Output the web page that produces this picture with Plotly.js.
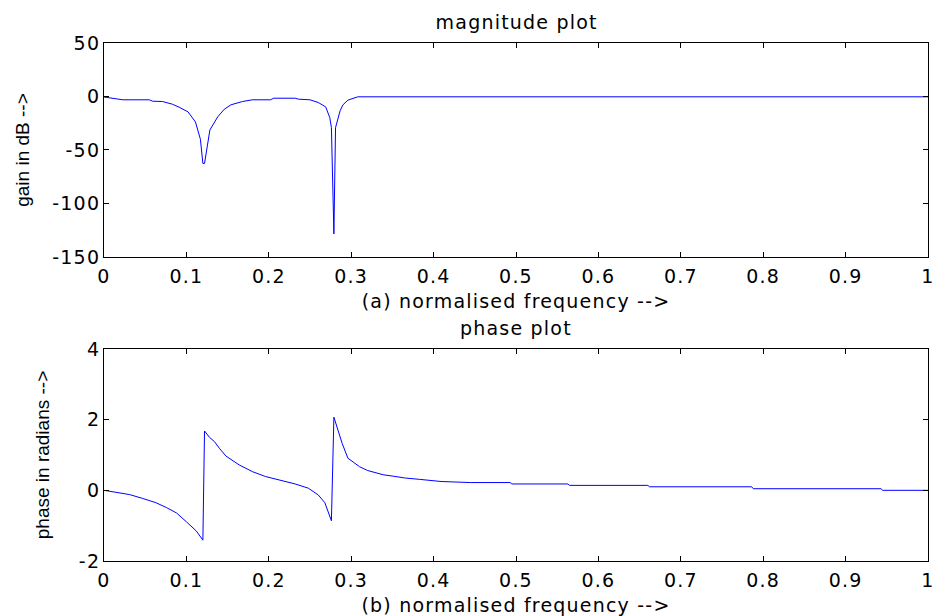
<!DOCTYPE html>
<html>
<head>
<meta charset="utf-8">
<script src="https://cdn.plot.ly/plotly-3.0.1.min.js"></script>
<style>
html,body{margin:0;padding:0;background:#fff;}
#chart{width:937px;height:616px;}
#chart text.xtitle, #chart text.x2title, #chart .xtick text, #chart .x2tick text,
#chart .ytick text, #chart .y2tick text, #chart text.annotation-text { letter-spacing: 1.2px; }
</style>
</head>
<body>
<div id="chart"></div>
<script>
// ---- data ----
var magFreq = [0, 0.023, 0.055, 0.059, 0.071, 0.083, 0.092, 0.102, 0.111, 0.117, 0.120, 0.122, 0.1285, 0.138, 0.146, 0.154, 0.168, 0.18, 0.202, 0.206, 0.232, 0.236, 0.25, 0.26, 0.269, 0.274, 0.276, 0.279, 0.281, 0.2865, 0.29, 0.296, 0.308, 1.0];
var magDb   = [-0.5, -3.1, -3.1, -4.4, -4.7, -7.2, -10.3, -14.4, -23.8, -40, -62.6, -62.6, -31.3, -19, -11.9, -7.8, -4.7, -3.1, -3.1, -1.6, -1.6, -2.5, -3.1, -5.6, -9.7, -19.7, -29.1, -128.4, -29.1, -13.4, -7.8, -3.4, -0.3, -0.3];

var phFreq = [0, 0.019, 0.031, 0.047, 0.063, 0.076, 0.088, 0.1, 0.112, 0.12, 0.122, 0.128, 0.134, 0.14, 0.148, 0.164, 0.18, 0.196, 0.216, 0.232, 0.248, 0.26, 0.268, 0.276, 0.279, 0.284, 0.289, 0.296, 0.31, 0.32, 0.339, 0.351, 0.365, 0.383, 0.409, 0.445, 0.493, 0.495, 0.563, 0.565, 0.66, 0.662, 0.786, 0.788, 0.943, 0.945, 1.0];
var phRad  = [0, -0.08, -0.12, -0.23, -0.35, -0.49, -0.64, -0.89, -1.15, -1.41, 1.68, 1.50, 1.38, 1.19, 0.97, 0.72, 0.53, 0.39, 0.27, 0.18, 0.06, -0.13, -0.35, -0.86, 2.07, 1.71, 1.33, 0.91, 0.67, 0.56, 0.44, 0.40, 0.35, 0.31, 0.25, 0.22, 0.22, 0.18, 0.18, 0.14, 0.14, 0.10, 0.10, 0.045, 0.045, 0.0, 0.0];

var xTickVals = [0, 0.1, 0.2, 0.3, 0.4, 0.5, 0.6, 0.7, 0.8, 0.9, 1];
var xTickText = ["0", "0.1", "0.2", "0.3", "0.4", "0.5", "0.6", "0.7", "0.8", "0.9", "1"];
var magTickVals = [-150, -100, -50, 0, 50];
var magTickText = ["-150", "-100", "-50", "0", "50"];
var phTickVals = [-2, 0, 2, 4];
var phTickText = ["-2", "0", "2", "4"];

var magTitle = "magnitude plot";
var phTitle = "phase plot";
var magXLabel = "(a) normalised frequency -->";
var phXLabel = "(b) normalised frequency -->";
var magYLabel = "gain in dB -->";
var phYLabel = "phase in radians -->";

// ---- chart ----
var hFont = {family: "DejaVu Sans", size: 19, color: "#000"};
var vFont = {family: "Liberation Sans, Arial", size: 19, color: "#000"};

var traces = [
  {x: magFreq, y: magDb, type: "scatter", mode: "lines", line: {color: "#0000ff", width: 1}, xaxis: "x", yaxis: "y", hoverinfo: "skip"},
  {x: phFreq, y: phRad, type: "scatter", mode: "lines", line: {color: "#0000ff", width: 1}, xaxis: "x2", yaxis: "y2", hoverinfo: "skip"}
];

function xax(title, anchor, standoff) {
  return {
    anchor: anchor, domain: [0, 1], range: [0, 1],
    tickmode: "array", tickvals: xTickVals, ticktext: xTickText,
    showgrid: false, zeroline: false, showline: true, linecolor: "#000", linewidth: 1,
    mirror: "ticks", ticks: "inside", ticklen: 5, tickcolor: "#000", tickwidth: 1,
    tickfont: hFont, ticklabelstandoff: 2, ticklabeloverflow: "allow",
    title: {text: title, font: hFont, standoff: standoff}
  };
}
function yax(title, anchor, dom, range, tv, tt, standoff) {
  return {
    anchor: anchor, domain: dom, range: range,
    tickmode: "array", tickvals: tv, ticktext: tt,
    showgrid: false, zeroline: false, showline: true, linecolor: "#000", linewidth: 1,
    mirror: "ticks", ticks: "inside", ticklen: 5, tickcolor: "#000", tickwidth: 1,
    tickfont: hFont, ticklabelstandoff: -1, ticklabeloverflow: "allow",
    title: {text: title, font: vFont, standoff: standoff}
  };
}

var layout = {
  width: 937, height: 616,
  margin: {l: 104, r: 9, t: 43, b: 55},
  paper_bgcolor: "#fff", plot_bgcolor: "#fff",
  showlegend: false,
  xaxis: xax(magXLabel, "y", 8),
  yaxis: yax(magYLabel, "x", [0.5869, 1], [-150, 50], magTickVals, magTickText, 22),
  xaxis2: xax(phXLabel, "y2", 8),
  yaxis2: yax(phYLabel, "x2", [0, 0.4093], [-2, 4], phTickVals, phTickText, 26),
  annotations: [
    {text: magTitle, xref: "paper", yref: "paper", x: 0.5, y: 1.0415, xanchor: "center", yanchor: "middle", showarrow: false, font: hFont},
    {text: phTitle, xref: "paper", yref: "paper", x: 0.5, y: 0.4498, xanchor: "center", yanchor: "middle", showarrow: false, font: hFont}
  ]
};

Plotly.newPlot("chart", traces, layout, {staticPlot: true, displayModeBar: false});
</script>
</body>
</html>
